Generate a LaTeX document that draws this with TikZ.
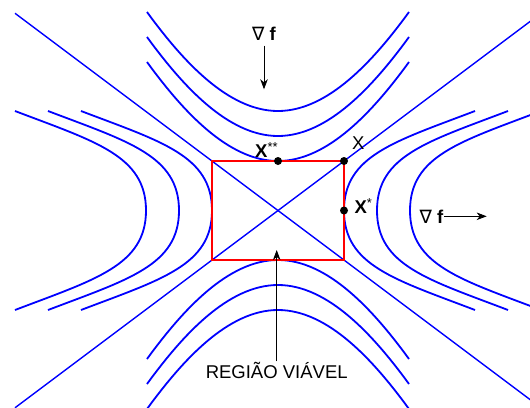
\documentclass[tikz,border=0pt]{standalone}
\usepackage{fontspec}
\setmainfont{Liberation Sans}
\newfontfamily\nablafont{DejaVu Sans}
\usetikzlibrary{arrows.meta}
\definecolor{levelblue}{HTML}{0000FF}
\definecolor{feasred}{HTML}{FF0000}
\tikzset{
  isoline/.style={draw=levelblue, line width=1.8pt},
  asym/.style={draw=levelblue, line width=1.4pt},
  feas/.style={draw=feasred, line width=1.8pt},
  pt/.style={circle, fill=black, inner sep=0pt, minimum size=8pt},
  lbl/.style={inner sep=0pt, font=\fontsize{18.5}{22}\selectfont},
  arr/.style={-{Stealth[length=10pt, width=7.5pt, inset=3pt]}, line width=0.9pt, black},
}

\begin{document}
\begin{tikzpicture}[x=1pt, y=-1pt]
\useasboundingbox (0,0) rectangle (530,407);
\clip (0,0) rectangle (530,407);
% level curves, right and left
\foreach \v in {344,377,410}
  \draw[isoline] ({\v+131},111) .. controls ({\v+51},141.5) and (\v,155.5) .. (\v,210.5)
    .. controls (\v,265.5) and ({\v+51},279.5) .. ({\v+131},310);
\foreach \v in {212,179,146}
  \draw[isoline] ({\v-131},111) .. controls ({\v-51},141.5) and (\v,155.5) .. (\v,210.5)
    .. controls (\v,265.5) and ({\v-51},279.5) .. ({\v-131},310);
% level curves, top and bottom
\foreach \w in {111,136,161}
  \draw[isoline] (147,{\w-99}) .. controls (182.4,{\w-50.4}) and (228,\w) .. (278,\w)
    .. controls (328,\w) and (373.6,{\w-50.4}) .. (409,{\w-99});
\foreach \w in {260,285,310}
  \draw[isoline] (147,{\w+99}) .. controls (182.4,{\w+50.4}) and (228,\w) .. (278,\w)
    .. controls (328,\w) and (373.6,{\w+50.4}) .. (409,{\w+99});
% asymptotes
\draw[asym] (15,13.25) -- (541,407.75);
\draw[asym] (15,407.75) -- (541,13.25);
% feasible region
\draw[feas] (212,161) rectangle (344,260);
\node[pt] (xss) at (278,161) {};
\node[pt] (xq) at (344,161) {};
\node[pt] (xs) at (344,210.5) {};
\node[lbl, anchor=base west] (xqlab) at (352,149.3) {X};
\node[lbl, anchor=base west] (xsslab) at (255,157.7) {\textbf{X}\textsuperscript{**}};
\node[lbl, anchor=base west] (xslab) at (354.3,213.3) {\textbf{X}\textsuperscript{*}};
% gradients
\node[lbl, anchor=base] (gtop) at (264,40.5) {{\nablafont ∇} \textbf{f}};
\node[lbl, anchor=base west] (gright) at (419.3,223) {{\nablafont ∇} \textbf{f}};
\coordinate (gtopend) at (0,89.3);
\draw[arr, shorten <=5pt] (gtop.south) -- (gtop.south |- gtopend);
\coordinate (grightend) at (486.7,0);
\draw[arr, shorten <=1pt] (gright.east) -- (gright.east -| grightend);
\node[lbl, anchor=base] (region) at (276.7,378.7) {REGIÃO VIÁVEL};
\coordinate (regionend) at (0,250);
\draw[arr, shorten <=1pt] (region.north) -- (region.north |- regionend);
\end{tikzpicture}
\end{document}
